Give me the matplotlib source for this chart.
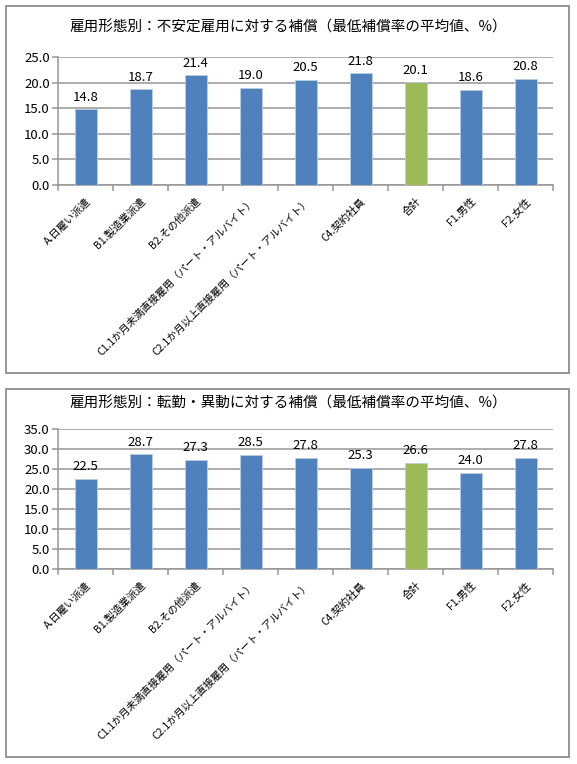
import matplotlib
matplotlib.use("Agg")
import matplotlib.pyplot as plt
import matplotlib.patches as patches
from matplotlib.ticker import FixedLocator, FormatStrFormatter

plt.rcParams['font.family'] = ['Noto Sans CJK JP', 'DejaVu Sans']

categories = ['A.日雇い派遣', 'B1.製造業派遣', 'B2.その他派遣',
              'C1.1か月未満直接雇用（パート・アルバイト）',
              'C2.1か月以上直接雇用（パート・アルバイト）',
              'C4.契約社員', '合計', 'F1.男性', 'F2.女性']
unstable_values = [14.8, 18.7, 21.4, 19.0, 20.5, 21.8, 20.1, 18.6, 20.8]
transfer_values = [22.5, 28.7, 27.3, 28.5, 27.8, 25.3, 26.6, 24.0, 27.8]
total_label = '合計'

title_top = '雇用形態別：不安定雇用に対する補償（最低補償率の平均値、%）'
title_bottom = '雇用形態別：転勤・異動に対する補償（最低補償率の平均値、%）'

BLUE = '#4F81BD'
GREEN = '#9BBB59'
GRID = '#969696'

W, H = 577, 764
fig = plt.figure(figsize=(W / 100, H / 100), dpi=100)


def px_box(x0, y0, x1, y1):
    # pixel box (top-left origin) -> figure fraction rect
    return [x0 / W, 1 - y1 / H, (x1 - x0) / W, (y1 - y0) / H]


def frame(y0, y1):
    l, b, w, h = px_box(6, y0, 569, y1)
    fig.patches.append(patches.Rectangle((l, b), w, h, transform=fig.transFigure,
                                         facecolor='none', edgecolor='#8c8c8c',
                                         linewidth=1.3, zorder=0))


def draw_panel(rect, values, ymax, title, title_y):
    ax = fig.add_axes(rect)
    ax.patch.set_alpha(0)
    x = list(range(len(categories)))
    colors = [GREEN if c == total_label else BLUE for c in categories]
    bars = ax.bar(x, values, width=0.4, color=colors, edgecolor='#b9cde5',
                  linewidth=0.6, zorder=3)
    for b, v in zip(bars, values):
        ax.annotate(f'{v:.1f}', (b.get_x() + b.get_width() / 2, v),
                    xytext=(0, 4), textcoords='offset points',
                    ha='center', va='bottom', fontsize=9.5, color='black')
    ax.set_xlim(-0.5, len(categories) - 0.5)
    ax.set_ylim(0, ymax)
    ax.set_yticks([i * 5 for i in range(int(ymax / 5) + 1)])
    ax.yaxis.set_major_formatter(FormatStrFormatter('%.1f'))
    ax.grid(axis='y', color=GRID, linewidth=1.1, zorder=0)
    ax.set_axisbelow(True)
    for s in ['top', 'right']:
        ax.spines[s].set_visible(False)
    for s in ['left', 'bottom']:
        ax.spines[s].set_color(GRID)
        ax.spines[s].set_linewidth(1.1)
    ax.tick_params(axis='y', length=4, color=GRID, width=1.1, labelsize=9.5, pad=2)
    ax.set_xticks(x)
    ax.set_xticklabels(categories, rotation=45, ha='right', rotation_mode='anchor',
                       fontsize=7.5)
    ax.tick_params(axis='x', which='major', length=0, pad=8)
    ax.xaxis.set_minor_locator(FixedLocator([i - 0.5 for i in range(len(categories) + 1)]))
    ax.tick_params(axis='x', which='minor', length=4, color=GRID, width=1.1)
    fig.text(0.5, 1 - title_y / H, title, ha='center', va='center', fontsize=10.5)
    return ax


frame(6, 373)
frame(389, 757)

draw_panel(px_box(58, 57, 553, 185), unstable_values, 25, title_top, 28)
draw_panel(px_box(58, 429, 553, 569), transfer_values, 35, title_bottom, 404)

fig.savefig('out.png', dpi=100)
